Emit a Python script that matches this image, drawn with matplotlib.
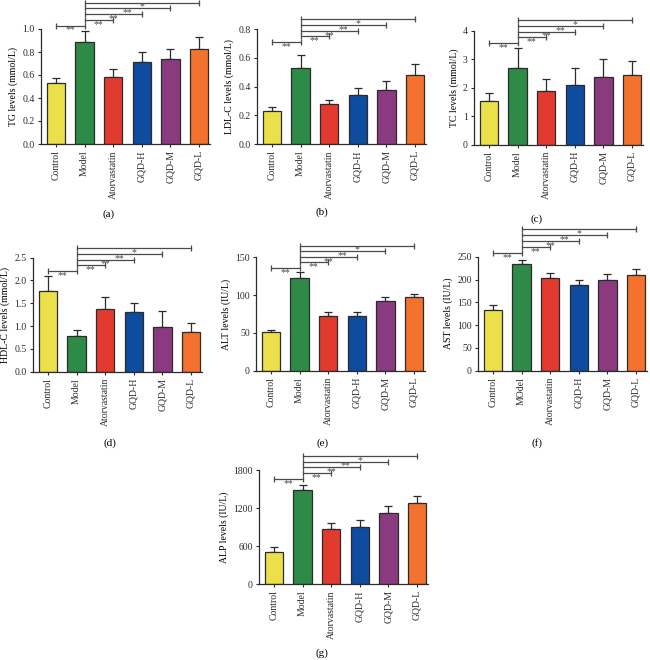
import matplotlib
matplotlib.use("Agg")
import matplotlib.pyplot as plt

plt.rcParams['font.family'] = ['Liberation Serif', 'DejaVu Serif']

groups = ['Control', 'Model', 'Atorvastatin', 'GQD-H', 'GQD-M', 'GQD-L']
groups_f = ['Control', 'MOdel', 'Atorvastatin', 'GQD-H', 'GQD-M', 'GQD-L']
colors = ['#ECE04A', '#2E8B47', '#E23A2E', '#0D4C9F', '#8A3A7F', '#F2722E']

tg_mean = [0.53, 0.89, 0.58, 0.71, 0.74, 0.83]
tg_err = [0.04, 0.09, 0.07, 0.09, 0.09, 0.10]
ldl_mean = [0.23, 0.53, 0.28, 0.34, 0.38, 0.48]
ldl_err = [0.03, 0.09, 0.03, 0.05, 0.06, 0.08]
tc_mean = [1.53, 2.68, 1.87, 2.10, 2.38, 2.45]
tc_err = [0.27, 0.72, 0.45, 0.58, 0.62, 0.50]
hdl_mean = [1.76, 0.78, 1.37, 1.32, 0.98, 0.86]
hdl_err = [0.33, 0.13, 0.27, 0.19, 0.36, 0.20]
alt_mean = [51, 122, 72, 72, 92, 97]
alt_err = [3, 8, 5, 5, 6, 5]
ast_mean = [133, 234, 203, 189, 199, 210]
ast_err = [10, 9, 11, 9, 12, 13]
alp_mean = [500, 1490, 870, 910, 1130, 1280]
alp_err = [80, 80, 100, 110, 110, 120]

sig_pairs = [(0, 1), (1, 2), (1, 3), (1, 4), (1, 5)]
sig_marks = ['**', '**', '**', '**', '*']

W, H = 650, 660
fig = plt.figure(figsize=(6.5, 6.6), dpi=100)

# (ylabel, mean, err, yticks, tickfmt, categories, left px, bottom px, top px, bracket base, step, letter, letter xy)
panels = [
    ('TG levels (mmol/L)', tg_mean, tg_err, [0, 0.2, 0.4, 0.6, 0.8, 1.0], '{:.1f}', groups,
     41, 144, 29, 1.03, 0.05, '(a)', (109, 214)),
    ('LDL-C levels (mmol/L)', ldl_mean, ldl_err, [0, 0.2, 0.4, 0.6, 0.8], '{:.1f}', groups,
     257, 144, 29.3, 0.71, 0.04, '(b)', (322, 212)),
    ('TC levels (mmol/L)', tc_mean, tc_err, [0, 1, 2, 3, 4], '{:d}', groups,
     474, 144.7, 30.7, 3.57, 0.2, '(c)', (537, 219)),
    ('HDL-C levels (mmol/L)', hdl_mean, hdl_err, [0, 0.5, 1.0, 1.5, 2.0, 2.5], '{:.1f}', groups,
     33, 371.7, 257.7, 2.21, 0.125, '(d)', (110, 443)),
    ('ALT levels (IU/L)', alt_mean, alt_err, [0, 50, 100, 150], '{:d}', groups,
     256, 370.7, 257.3, 136, 7.4, '(e)', (323, 443)),
    ('AST levels (IU/L)', ast_mean, ast_err, [0, 50, 100, 150, 200, 250], '{:d}', groups_f,
     478, 370.7, 256.7, 258, 13, '(f)', (537, 443)),
    ('ALP levels (IU/L)', alp_mean, alp_err, [0, 600, 1200, 1800], '{:d}', groups,
     259, 584, 470.3, 1662, 92, '(g)', (322, 653)),
]

axis_w = 169
edge = '#2b2b2b'
for (ylab, mean, err, yt, fmt, cats, lpx, bpx, tpx, base, step, letter, lxy) in panels:
    ax = fig.add_axes([lpx / W, 1 - bpx / H, axis_w / W, (bpx - tpx) / H])
    x = list(range(len(cats)))
    ax.bar(x, mean, width=0.64, color=colors, edgecolor=edge, linewidth=0.9, zorder=2)
    ax.errorbar(x, mean, yerr=[[0] * len(err), err], fmt='none', ecolor=edge,
                elinewidth=0.9, capsize=3, capthick=0.9, zorder=1)
    ax.set_xlim(-0.52, 5.38)
    ax.set_ylim(0, yt[-1])
    ax.set_yticks(yt)
    ax.set_yticklabels([fmt.format(v) for v in yt])
    ax.set_xticks(x)
    ax.set_xticklabels(cats, rotation=90)
    ax.tick_params(axis='both', labelsize=7, length=2.5, width=0.8, colors=edge, pad=2)
    ax.set_ylabel(ylab, fontsize=7, labelpad=3)
    for s in ['top', 'right']:
        ax.spines[s].set_visible(False)
    for s in ['left', 'bottom']:
        ax.spines[s].set_linewidth(0.9)
        ax.spines[s].set_color(edge)
    for i, ((a, b), mk) in enumerate(zip(sig_pairs, sig_marks)):
        yy = base + step * i
        ax.plot([a, b], [yy, yy], color='#4a4a4a', lw=0.9, marker='|', ms=4, mew=0.9,
                clip_on=False, zorder=3)
        ax.text((a + b) / 2, yy, mk, ha='center', va='top', fontsize=7, color='#4a4a4a',
                clip_on=False)
    fig.text(lxy[0] / W, 1 - lxy[1] / H, letter, ha='center', va='center', fontsize=8)

fig.savefig('out.png', dpi=100)
